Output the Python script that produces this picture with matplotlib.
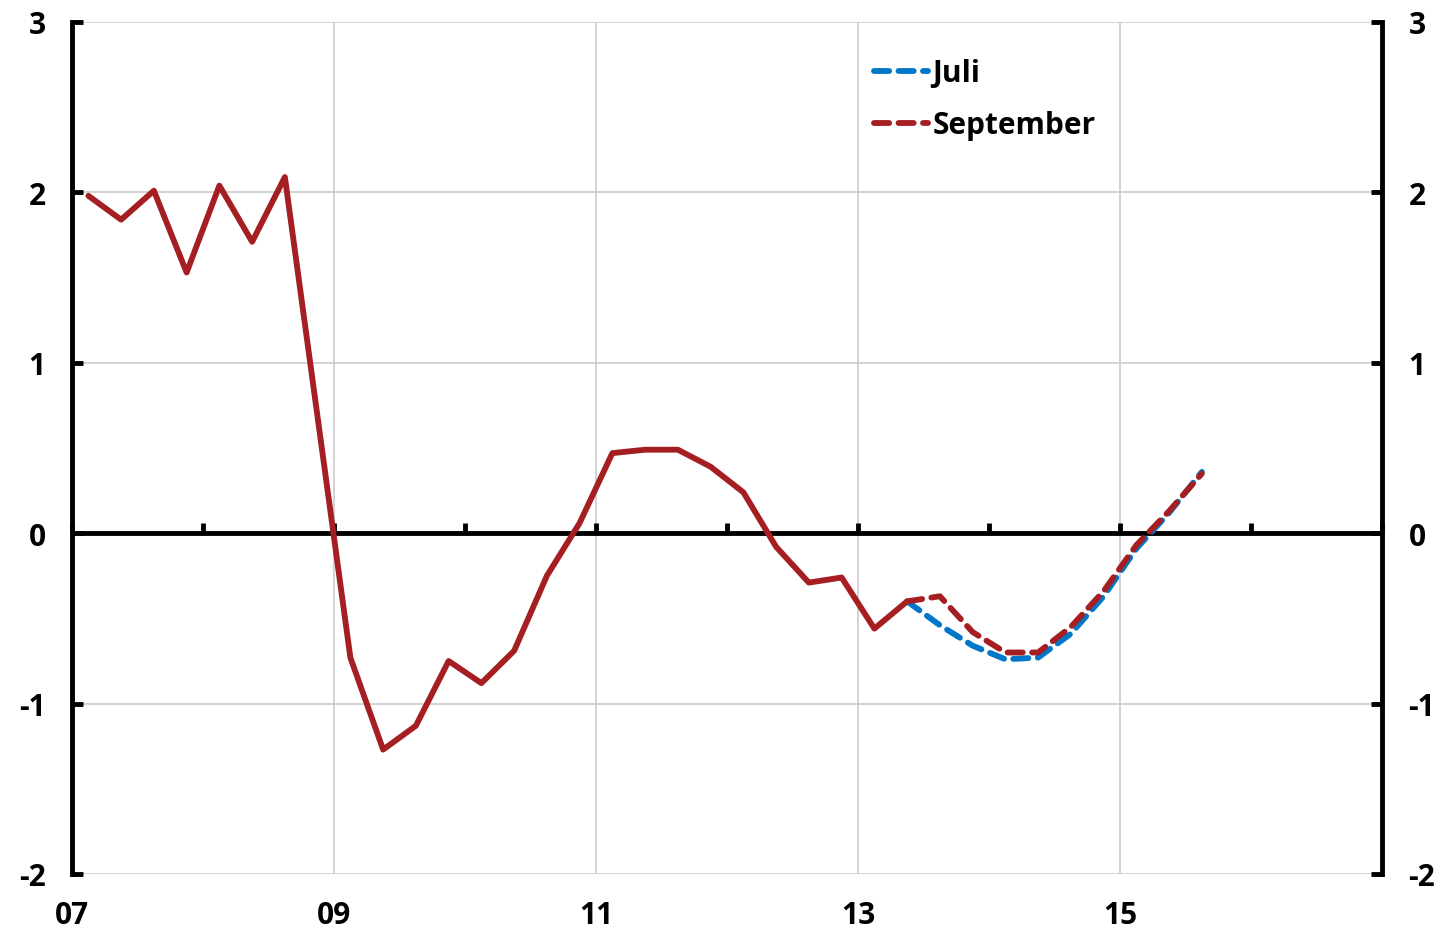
import matplotlib
matplotlib.use("Agg")
import matplotlib.pyplot as plt
import numpy as np

# ---- data ----
hist_quarters = ["2007Q1","2007Q2","2007Q3","2007Q4","2008Q1","2008Q2","2008Q3","2008Q4",
                 "2009Q1","2009Q2","2009Q3","2009Q4","2010Q1","2010Q2","2010Q3","2010Q4",
                 "2011Q1","2011Q2","2011Q3","2011Q4","2012Q1","2012Q2","2012Q3","2012Q4",
                 "2013Q1","2013Q2"]
hist_values = [1.98, 1.84, 2.01, 1.53, 2.04, 1.71, 2.09, 0.68,
               -0.73, -1.27, -1.13, -0.75, -0.88, -0.69, -0.25, 0.06,
               0.47, 0.49, 0.49, 0.39, 0.24, -0.08, -0.29, -0.26,
               -0.56, -0.40]
proj_quarters = ["2013Q2","2013Q3","2013Q4","2014Q1","2014Q2","2014Q3","2014Q4",
                 "2015Q1","2015Q2","2015Q3"]
juli_values = [-0.40, -0.54, -0.66, -0.74, -0.73, -0.59, -0.37, -0.09, 0.12, 0.36]
sept_values = [-0.40, -0.37, -0.58, -0.70, -0.70, -0.55, -0.34, -0.07, 0.13, 0.35]
series_labels = ["Juli", "September"]
x_tick_years = [2007, 2009, 2011, 2013, 2015]
x_tick_labels = ["07", "09", "11", "13", "15"]
y_ticks = [-2, -1, 0, 1, 2, 3]


def q2x(q):
    y, qq = q.split("Q")
    return int(y) + (int(qq) - 1) / 4 + 0.125


RED = "#A51E22"
BLUE = "#0077C8"
FONT = "Open Sans"
FS = 21.5
LW = 4.2

plt.rcParams['font.family'] = [FONT, 'DejaVu Sans']
plt.rcParams['font.weight'] = 'bold'

fig = plt.figure(figsize=(14.48, 9.29), dpi=100)
ax = fig.add_axes([72/1448, 1 - 875/929, (1382-72)/1448, (875-23)/929])

hx = [q2x(q) for q in hist_quarters]
px = [q2x(q) for q in proj_quarters]

ax.plot(px, juli_values, color=BLUE, lw=LW, ls=(0, (2.6, 1.6)),
        dash_capstyle='round', label=series_labels[0], zorder=4)
ax.plot(px, sept_values, color=RED, lw=LW, ls=(0, (2.6, 1.6)),
        dash_capstyle='round', label=series_labels[1], zorder=5)
ax.plot(hx, hist_values, color=RED, lw=LW, solid_capstyle='round',
        solid_joinstyle='round', zorder=6)

ax.set_xlim(2007, 2017)
ax.set_ylim(-2, 3)

# grid
ax.set_yticks(y_ticks)
ax.yaxis.grid(True, color="#cccccc", lw=1.2)
for xv in x_tick_years[1:]:
    ax.axvline(xv, color="#cccccc", lw=1.2, zorder=0)
ax.axhline(0, color="black", lw=3.5, zorder=3)

# spines
ax.spines['top'].set_visible(False)
ax.spines['left'].set_linewidth(3.5)
ax.spines['right'].set_linewidth(3.5)
ax.spines['bottom'].set_position(('data', 0))
ax.spines['bottom'].set_visible(False)

ax.set_xticks(np.arange(2007, 2018, 1))
ax.tick_params(axis='x', direction='in', length=7, width=3.5, labelbottom=False,
               color='black')
ax.tick_params(axis='y', direction='in', length=8, width=3.5, left=True, right=True,
               labelleft=True, labelright=True, pad=19, labelsize=FS)
ax.set_yticklabels([str(v) for v in y_ticks], fontweight='bold')

sec = ax.secondary_xaxis('bottom')
sec.set_xticks(x_tick_years)
sec.set_xticklabels(x_tick_labels, fontweight='bold', fontsize=FS)
sec.tick_params(length=0, pad=19)
sec.spines['bottom'].set_visible(False)

leg = ax.legend(loc='upper left', bbox_to_anchor=(0.592, 0.989), frameon=False,
                prop={'family': FONT, 'weight': 'bold', 'size': FS},
                handlelength=1.8, handletextpad=0.15, labelspacing=0.73)

fig.savefig("out.png", dpi=100)
